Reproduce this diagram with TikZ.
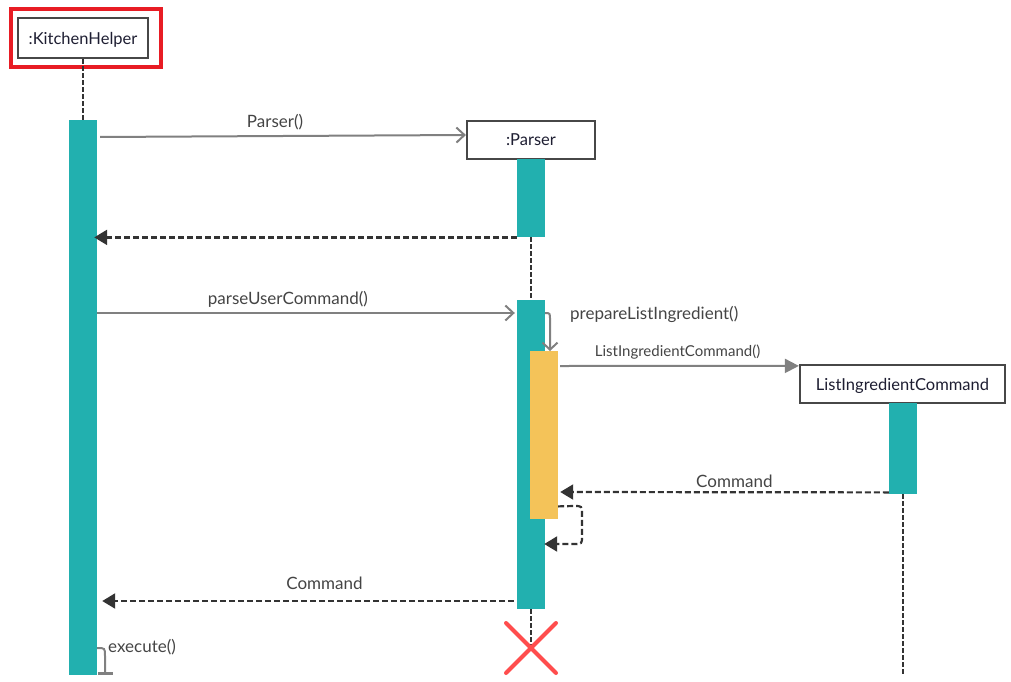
\documentclass[tikz,border=0pt]{standalone}
\usepackage{fontspec}
\setmainfont{Lato}
\usetikzlibrary{arrows.meta,calc}
\definecolor{teal1}{RGB}{34,176,175}
\definecolor{yel}{RGB}{244,195,89}
\definecolor{grayl}{RGB}{128,128,128}
\definecolor{darkl}{RGB}{51,51,51}
\definecolor{redbox}{RGB}{232,28,36}
\definecolor{redx}{RGB}{255,77,77}
\definecolor{txt}{RGB}{30,30,50}
\definecolor{lbl}{RGB}{68,68,68}
\tikzset{
  obj/.style={draw=darkl!90, line width=2.2pt, fill=white, text=txt, font=\fontsize{16.5}{19}\selectfont, inner sep=0pt, text depth=0pt},
  act/.style={fill=teal1, draw=none, minimum width=28pt, inner sep=0pt},
  yact/.style={fill=yel, draw=none, minimum width=28pt, inner sep=0pt},
  life/.style={darkl, line width=2.2pt, dash pattern=on 5pt off 2pt},
  msg/.style={grayl, line width=2pt, -{Straight Barb[length=8pt,width=15pt,line width=2pt]}},
  fmsg/.style={grayl, line width=2pt, -{Triangle[length=14pt,width=14pt]}},
  ret/.style={darkl, line width=2.2pt, dash pattern=on 6pt off 3pt, -{Triangle[length=13pt,width=15pt,fill=darkl]}},
  lab/.style={text=lbl, font=\fontsize{17}{20}\selectfont, inner sep=0pt},
  slab/.style={text=lbl, font=\fontsize{15}{18}\selectfont, inner sep=0pt}
}
\begin{document}
\begin{tikzpicture}[x=1pt,y=-1pt]
\useasboundingbox (0,0) rectangle (1011,682);
% KitchenHelper
\node[draw=redbox, line width=4pt, minimum width=150pt, minimum height=58pt, inner sep=0pt] (khred) at (86,38) {};
\node[obj, minimum width=130pt, minimum height=40pt] (kh) at (83,38) {:KitchenHelper};
\node[act, minimum height=555pt, anchor=north] (khact) at (83,120) {};
\draw[life] (kh.south) -- (khact.north);
% Parser
\node[obj, minimum width=128pt, minimum height=38pt] (parser) at (531,140) {:Parser};
\node[act, minimum height=78pt, anchor=north] (pact1) at (531,159) {};
\node[act, minimum height=309pt, anchor=north] (pact2) at (531,300) {};
\draw[life] (pact1.south) -- (pact2.north);
\node[yact, minimum height=168pt, anchor=north] (yact) at (544,351) {};
% ListIngredientCommand
\node[obj, minimum width=205pt, minimum height=38pt] (lic) at (902.5,384) {ListIngredientCommand};
\node[act, minimum height=91pt, anchor=north] (licact) at (903,403) {};
\coordinate (licend) at (903,675);
\draw[life] (licact.south) -- (licend);
% Parser destroy
\coordinate (xc) at (531,648);
\draw[life] (pact2.south) -- (xc);
\draw[redx, line width=4pt, line cap=round] ($(xc)+(-25,-25)$) -- ($(xc)+(25,25)$);
\draw[redx, line width=4pt, line cap=round] ($(xc)+(-25,25)$) -- ($(xc)+(25,-25)$);
% Parser()
\draw[msg] ($(khact.north east)+(3,17)$) -- node[lab, above=5pt, xshift=-8pt] (l1) {Parser()} ($(parser.west)+(0,-5)$);
% return 1
\draw[ret] (pact1.south west) -- ($(khact.east |- pact1.south)+(-3,0)$);
% parseUserCommand()
\coordinate (puc) at (97,313);
\draw[msg] (puc) -- node[lab, above=5pt, xshift=-18pt] (l2) {parseUserCommand()} ($(pact2.west |- puc)+(-2,0)$);
% prepareListIngredient()
\coordinate (pli) at (545,313);
\draw[grayl, line width=2pt, -{Straight Barb[length=7pt,width=15pt,line width=2pt]}] (pli) .. controls (550,313) .. (550,320) -- ($(yact.north)+(6,0)$);
\node[lab, anchor=west] (l3) at (570,314) {prepareListIngredient()};
% ListIngredientCommand()
\draw[fmsg] ($(yact.east |- 0,366)+(2,0)$) -- node[slab, above=6pt, xshift=-2pt] (l4) {ListIngredientCommand()} ($(lic.north west)+(0,2)$);
% Command return from LIC
\draw[ret] ($(licact.south west)+(0,-2)$) -- node[lab, above=3pt, pos=0.47] (l5) {Command} ($(yact.east |- 0,492)+(2,0)$);
% self return
\draw[ret] ($(yact.south east)+(0,-13)$) -- (574,506) .. controls (582,506) .. (582,514) -- (582,536) .. controls (582,544) .. (574,544) -- ($(pact2.east |- 0,544)+(-1,0)$);
% Command return to KH
\draw[ret] ($(pact2.west |- 0,601)+(-3,0)$) -- node[lab, above=10pt, pos=0.46] (l6) {Command} ($(khact.east |- 0,601)+(5,0)$);
% execute()
\coordinate (ex) at (97,648);
\draw[grayl, line width=2pt] (ex) .. controls (105,648) .. (105,656) -- (105,672);
\draw[grayl, line width=3pt] (98,673) -- (113,673);
\node[lab, anchor=west] (l7) at (108,647) {execute()};
\end{tikzpicture}
\end{document}
